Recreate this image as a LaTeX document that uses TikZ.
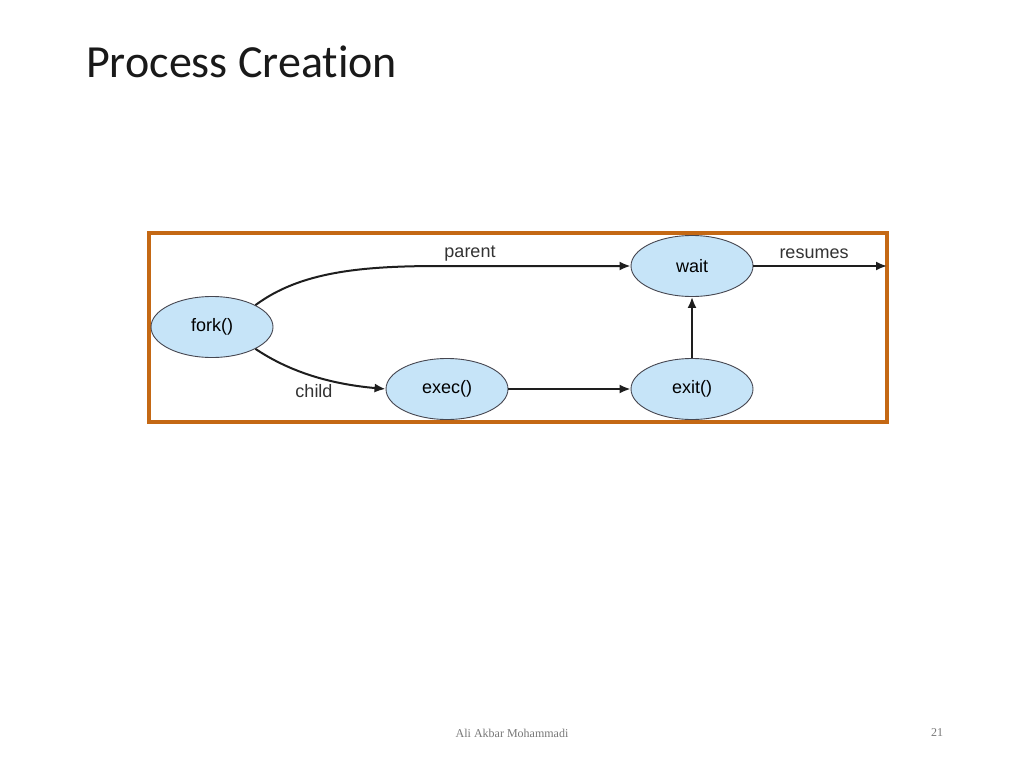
\documentclass[tikz,border=0pt]{standalone}
\usepackage{fontspec}
\setmainfont{Liberation Sans}
\newfontfamily\titlefont[Ligatures=NoCommon]{Carlito}
\newfontfamily\footfont{Liberation Serif}
\usetikzlibrary{shapes.geometric,arrows.meta}
\definecolor{frameOrange}{RGB}{196,104,20}
\definecolor{procFill}{RGB}{198,228,248}
\definecolor{procLine}{RGB}{70,70,80}
\definecolor{arrowInk}{RGB}{30,30,30}
\definecolor{footGray}{RGB}{120,120,120}

\begin{document}
\begin{tikzpicture}[x=1pt,y=-1pt,
  proc/.style={ellipse,draw=procLine,fill=procFill,line width=0.9pt,
               minimum width=122pt,minimum height=61pt,inner sep=0pt,font=\fontsize{18}{18}\selectfont},
  arr/.style={draw=arrowInk,line width=2pt,-{Latex[length=11pt,width=9pt]}},
  lbl/.style={font=\fontsize{18}{18}\selectfont,text=black!80,inner sep=0pt}]
\useasboundingbox[fill=white] (0,0) rectangle (1024,768);

% title and footer
\node[anchor=west,inner sep=0pt,font=\titlefont\fontsize{46}{46}\selectfont,text=black!90] (title) at (86,62) {Process Creation};
\node[inner sep=0pt,font=\footfont\fontsize{12}{12}\selectfont,text=footGray] (author) at (512,733) {Ali Akbar Mohammadi};
\node[inner sep=0pt,font=\footfont\fontsize{12}{12}\selectfont,text=footGray] (page) at (937,733) {21};

% frame
\draw[frameOrange,line width=3.5pt] (149,233) rectangle (887,422);

% processes
\node[proc] (fork) at (212,327) {fork()};
\node[proc] (wait) at (692,266) {wait};
\node[proc] (exec) at (447,389) {exec()};
\node[proc] (exit) at (692,389) {exit()};
\coordinate (resume) at (887,266);

% connectors
\draw[arr] (fork.north east) .. controls (300,272) and (360,266) .. (440,266) -- (wait.west);
\draw[arr] (fork.south east) .. controls (290,372) and (330,384) .. (exec.west);
\draw[arr] (exec) -- (exit);
\draw[arr] (exit) -- (wait);
\draw[arr] (wait) -- (resume);

% labels
\node[lbl] (parentlbl) at (470,254) {parent};
\node[lbl] (resumeslbl) at (814,254) {resumes};
\node[lbl] (childlbl) at (314,391) {child};
\end{tikzpicture}
\end{document}
